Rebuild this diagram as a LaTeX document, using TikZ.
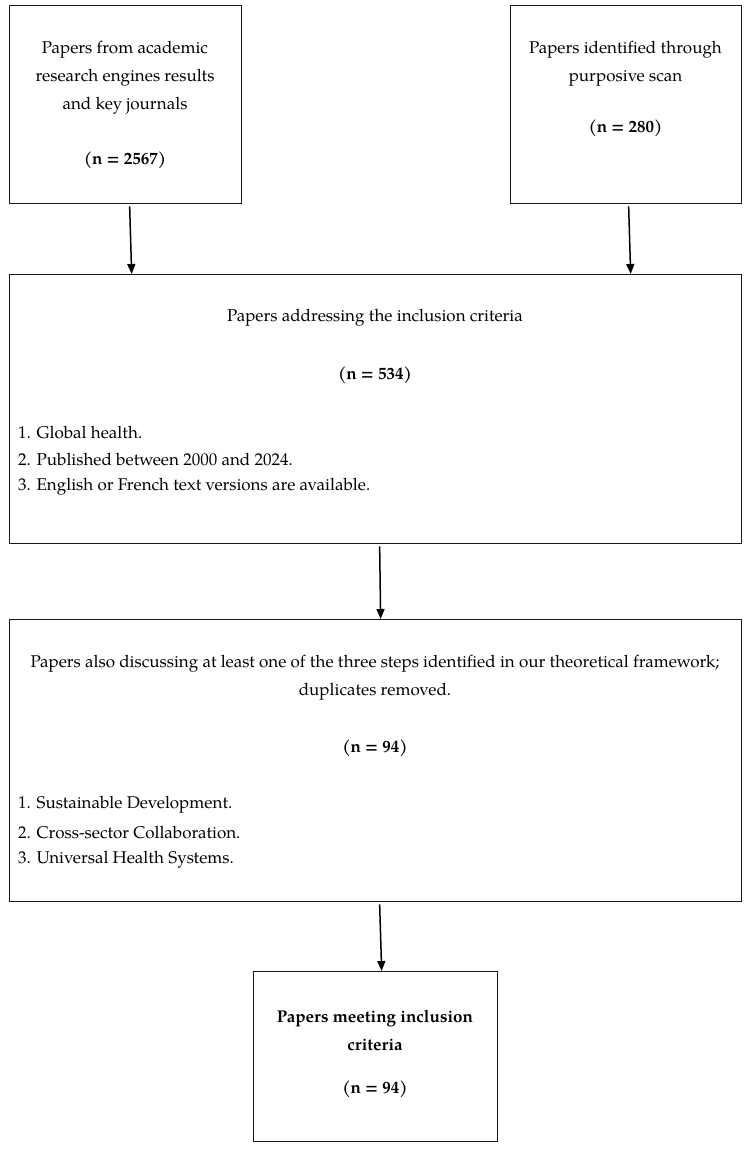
\documentclass[tikz,border=0pt]{standalone}
\usepackage{fontspec}
\setmainfont{TeX Gyre Pagella}
\usetikzlibrary{arrows.meta}
\tikzset{
  box/.style={draw=black!90, line width=1.3pt, anchor=north west, inner sep=0pt},
  txt/.style={inner sep=0pt, font=\fontsize{17}{28}\selectfont, align=center},
  btxt/.style={inner sep=0pt, font=\bfseries\fontsize{17}{28}\selectfont, align=center},
  ltxt/.style={inner sep=0pt, anchor=west, font=\fontsize{17}{28}\selectfont},
  arr/.style={line width=1.5pt, -{Triangle[length=10pt,width=8pt]}}
}
\begin{document}
\begin{tikzpicture}[x=1pt,y=-1pt]
\useasboundingbox[fill=white] (0,0) rectangle (748,1151);
% boxes
\node[box, minimum width=232pt, minimum height=198pt] (b1) at (9,5) {};
\node[box, minimum width=231pt, minimum height=198pt] (b2) at (510,5) {};
\node[box, minimum width=732pt, minimum height=269pt] (b3) at (9,274) {};
\node[box, minimum width=732pt, minimum height=282pt] (b4) at (9,619) {};
\node[box, minimum width=244pt, minimum height=170pt] (b5) at (253,971) {};
% box 1 text
\node[txt] (t1) at (125,78) {Papers from academic\\research engines results\\and key journals};
\node[btxt] (n1) at (125,160) {(n = 2567)};
% box 2 text
\node[txt] (t2) at (625.5,63.5) {Papers identified through\\purposive scan};
\node[btxt] (n2) at (625.5,128) {(n = 280)};
% box 3 text
\node[txt] (t3) at (375,318) {Papers addressing the inclusion criteria};
\node[btxt] (n3) at (375,375) {(n = 534)};
\node[ltxt] (l31) at (18,432) {1. Global health.};
\node[ltxt] (l32) at (18,459.5) {2. Published between 2000 and 2024.};
\node[ltxt] (l33) at (18,487) {3. English or French text versions are available.};
% box 4 text
\node[txt] (t4) at (375,678) {Papers also discussing at least one of the three steps identified in our theoretical framework;\\duplicates removed.};
\node[btxt] (n4) at (375,748) {(n = 94)};
\node[ltxt] (l41) at (18,805) {1. Sustainable Development.};
\node[ltxt] (l42) at (18,832.5) {2. Cross-sector Collaboration.};
\node[ltxt] (l43) at (18,860) {3. Universal Health Systems.};
% box 5 text
\node[btxt] (t5) at (375,1031) {Papers meeting inclusion\\criteria};
\node[btxt] (n5) at (375,1089) {(n = 94)};
% arrows
\draw[arr] ([xshift=4pt,yshift=-2pt]b1.south) -- ([xshift=-244pt]b3.north);
\draw[arr] ([xshift=2.5pt,yshift=-2pt]b2.south) -- ([xshift=255pt]b3.north);
\draw[arr] ([xshift=4pt,yshift=-2pt]b3.south) -- ([xshift=5pt]b4.north);
\draw[arr] ([xshift=4pt,yshift=-2pt]b4.south) -- ([xshift=6pt]b5.north);
\end{tikzpicture}
\end{document}
